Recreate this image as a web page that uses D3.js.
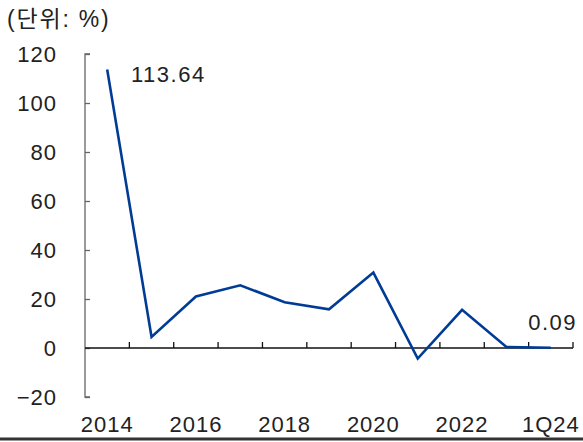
<!DOCTYPE html>
<html><head><meta charset="utf-8">
<script src="https://cdn.jsdelivr.net/npm/d3@7"></script>
<style>
body{margin:0;background:#fff;}
svg text{font-family:"Liberation Sans","Noto Sans CJK KR",sans-serif;fill:#222;}
</style></head>
<body><svg id="c" width="583" height="442"></svg>
<script>
const categories = ["2014","2015","2016","2017","2018","2019","2020","2021","2022","2023","1Q24"];
const values = [113.64, 4.5, 21.0, 25.6, 18.7, 15.8, 30.8, -4.3, 15.6, 0.4, 0.09];
const xLabels = ["2014","2016","2018","2020","2022","1Q24"];
const yTicks = [-20,0,20,40,60,80,100,120];
const annotations = [{i:0,text:"113.64"},{i:10,text:"0.09"}];

const svg = d3.select("#c");
const x = d3.scaleBand().domain(categories).range([85,573]);
const y = d3.scaleLinear().domain([-20,120]).range([397,54]);
const cx = d => x(d)+x.bandwidth()/2;

svg.append("text").attr("x",7).attr("y",27).attr("font-size",23).attr("letter-spacing",1.8).text("(단위: %)");

// y axis
const ya = svg.append("g").attr("transform","translate(85,0)")
  .call(d3.axisRight(y).tickValues(yTicks).tickSize(5).tickFormat(""));
ya.select(".domain").attr("stroke","#666").attr("stroke-width",1.3).attr("d","M5,54H0V397H5");
ya.selectAll(".tick line").attr("stroke","#666").attr("stroke-width",1.3);
svg.append("g").selectAll("text").data(yTicks).join("text")
  .attr("x",57).attr("y",d=>y(d)+8).attr("text-anchor","end").attr("font-size",22)
  .attr("letter-spacing",1)
  .text(d=>d<0?"\u2212"+Math.abs(d):d);

// zero line with ticks at band edges
svg.append("line").attr("x1",85).attr("x2",573).attr("y1",y(0)).attr("y2",y(0)).attr("stroke","#111").attr("stroke-width",1.5);
svg.append("g").selectAll("line").data(categories).join("line")
  .attr("x1",d=>x(d)+x.bandwidth()).attr("x2",d=>x(d)+x.bandwidth())
  .attr("y1",y(0)).attr("y2",y(0)-6).attr("stroke","#111").attr("stroke-width",1.3);

// x labels
svg.append("g").selectAll("text").data(xLabels).join("text")
  .attr("x",d=>cx(d)).attr("y",432).attr("text-anchor","middle").attr("font-size",22)
  .attr("letter-spacing",1).text(d=>d);

// line
const line = d3.line().x((d,i)=>cx(categories[i])).y(d=>y(d));
svg.append("path").datum(values).attr("d",line).attr("fill","none")
  .attr("stroke","#003c96").attr("stroke-width",2.6).attr("stroke-linejoin","miter");

// annotations
svg.append("text").attr("x",131).attr("y",82).attr("font-size",22).attr("letter-spacing",1.5).text(annotations[0].text);
svg.append("text").attr("x",577).attr("y",330).attr("text-anchor","end").attr("font-size",22).attr("letter-spacing",1.5).text(annotations[1].text);

// bottom rule
svg.append("line").attr("x1",0).attr("x2",583).attr("y1",439).attr("y2",439).attr("stroke","#333").attr("stroke-width",3);
</script></body></html>
